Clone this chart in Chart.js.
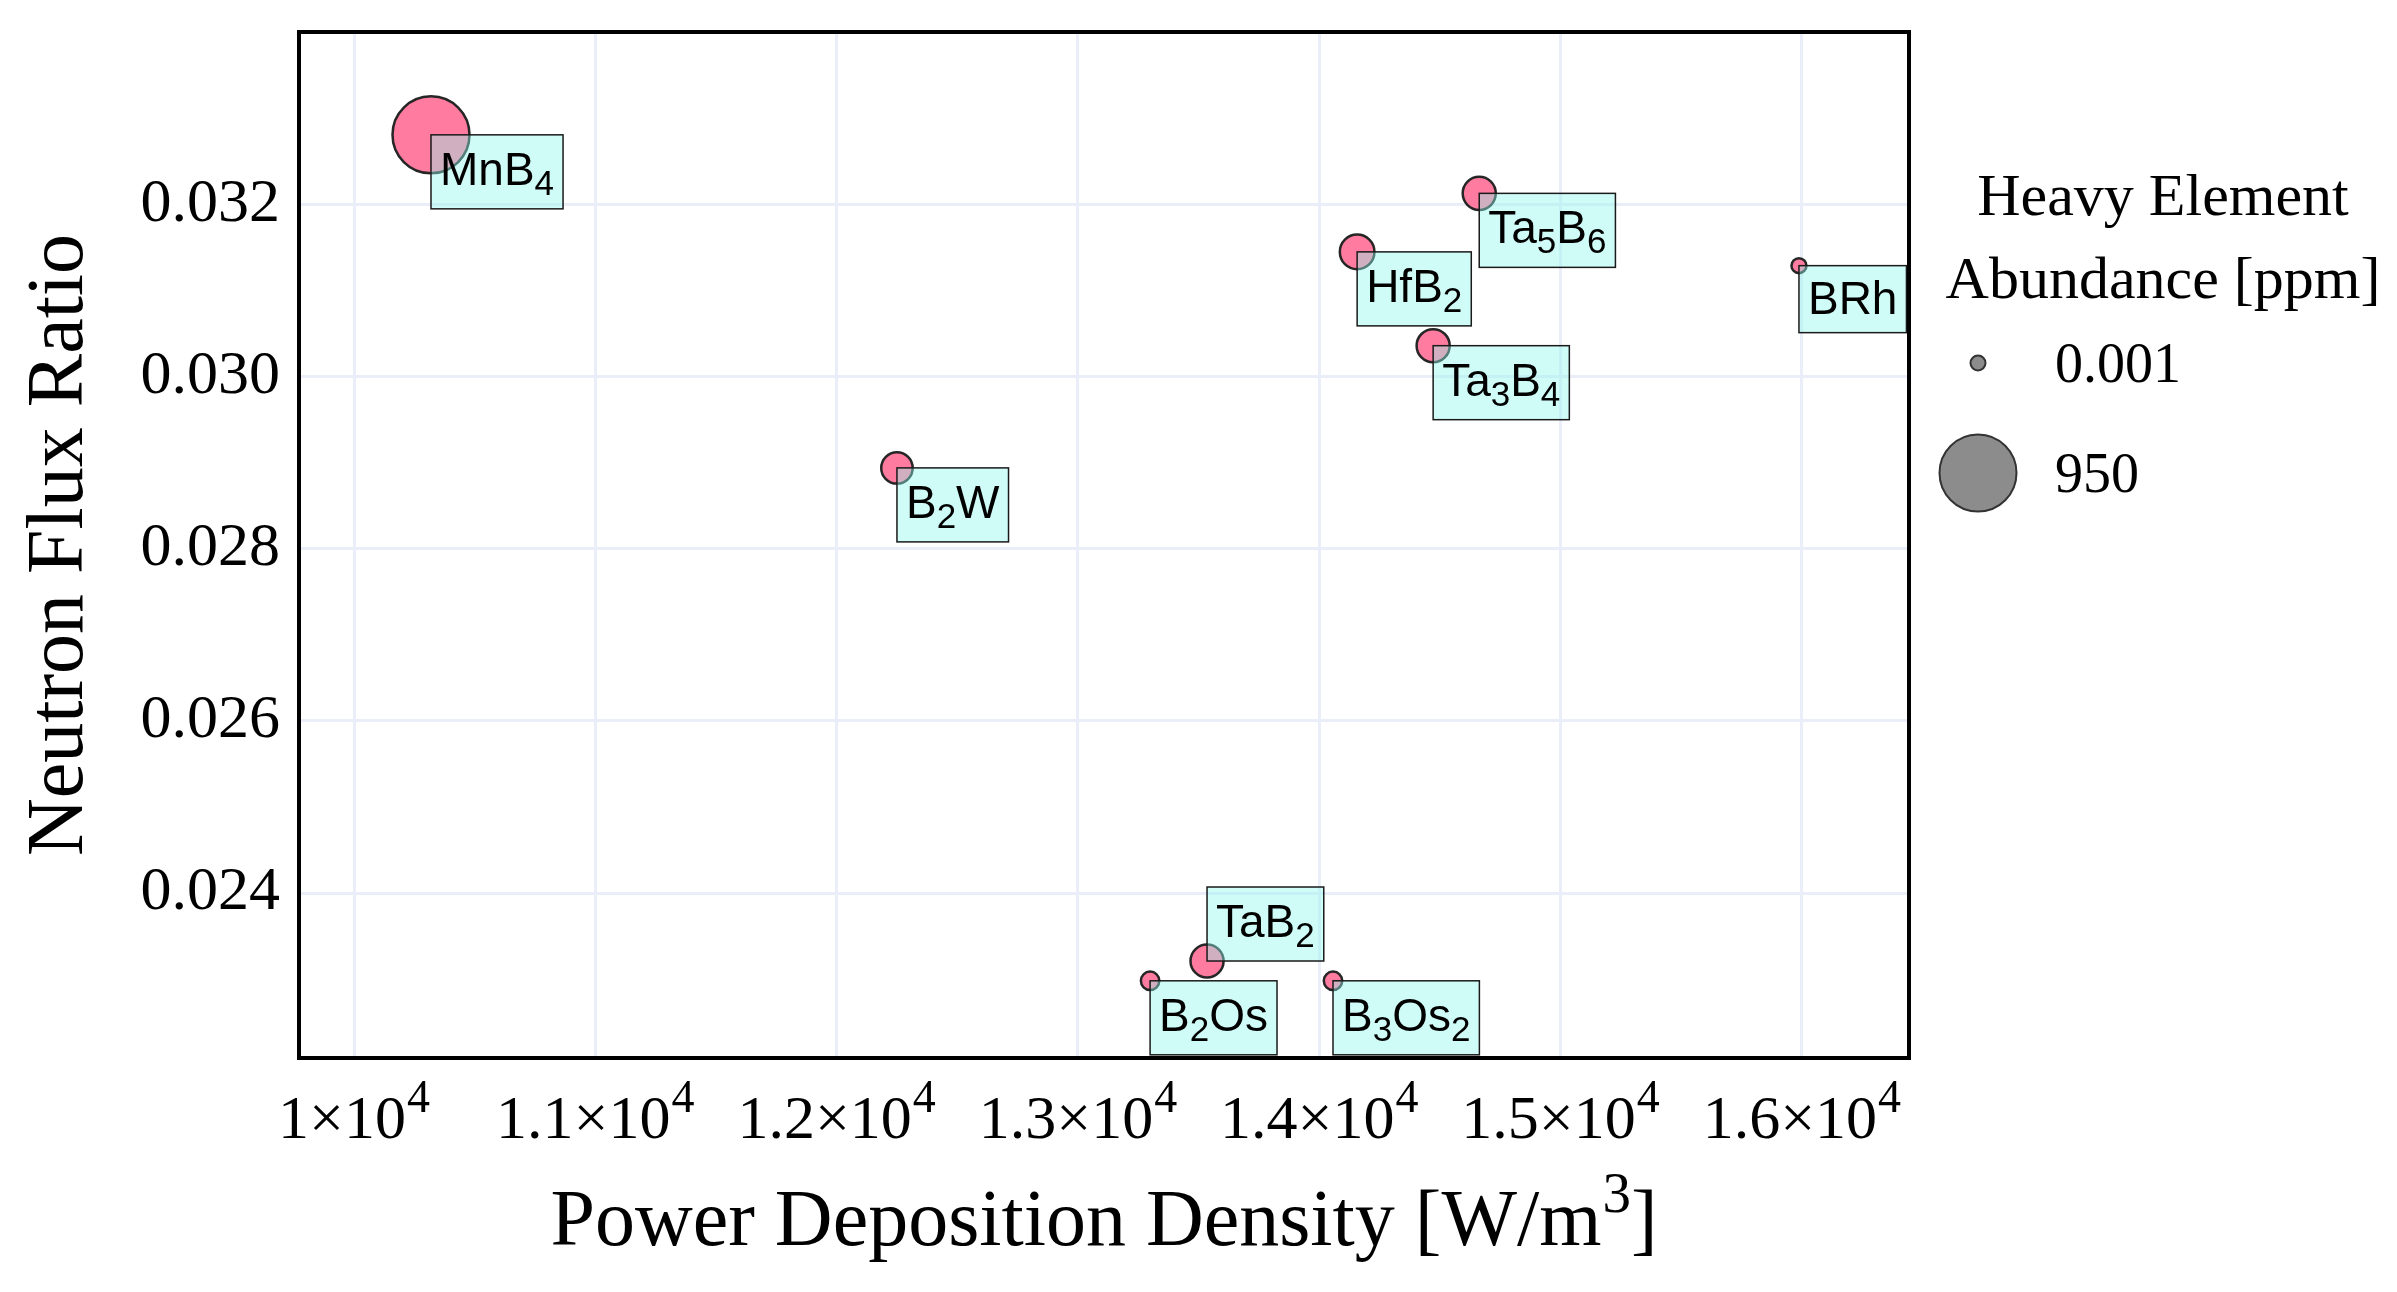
<!DOCTYPE html>
<html lang="en">
<head>
    <meta charset="UTF-8" />
    <title>Neutron Flux Ratio vs Power Deposition Density</title>
    <script src="https://cdn.jsdelivr.net/npm/chart.js@4.4.1/dist/chart.umd.min.js"></script>
    <style>
        html, body { margin: 0; padding: 0; background: #ffffff; }
        #wrap { width: 2397px; height: 1292px; position: relative; }
    </style>
</head>
<body>
    <div id="wrap"><canvas id="chart"></canvas></div>

    <script>
        // === Data ===
        const compounds    = ["MnB4", "B2W", "Ta5B6", "HfB2", "Ta3B4", "BRh", "TaB2", "B2Os", "B3Os2"];
        const powerDensity = [10319, 12250, 14663, 14157, 14472, 15988, 13535, 13299, 14057];
        const fluxRatio    = [0.03281, 0.02894, 0.03213, 0.03145, 0.03036, 0.03129, 0.02321, 0.02298, 0.02298];
        const abundance    = [950, 1.25, 2, 3, 2, 0.001, 2, 0.0015, 0.0015]; // heavy element, ppm
        const xTicks = [10000, 11000, 12000, 13000, 14000, 15000, 16000];
        const yTicks = [0.024, 0.026, 0.028, 0.030, 0.032];
        const sizeLegend = [0.001, 950];

        // labels that sit above their point instead of below
        const LABEL_ABOVE = ["TaB2"];

        // === Styling ===
        const SERIF = "'Liberation Serif', 'Times New Roman', serif";
        const SANS = "'Liberation Sans', Arial, sans-serif";
        const GRID = "rgb(234, 238, 248)";
        const POINT_FILL = "#FF7BA0";
        const LABEL_FILL = "rgba(143, 248, 238, 0.42)";

        // size scale: abundance -> bubble radius (px)
        const R_MIN = 7.5, R_MAX = 38.5;
        function radiusFor(v) {
            const lo = sizeLegend[0], hi = sizeLegend[sizeLegend.length - 1];
            const f = Math.pow(Math.max(0, (v - lo) / (hi - lo)), 0.2);
            return R_MIN + (R_MAX - R_MIN) * f;
        }

        // "Ta3B4" -> [{text:"Ta"}, {text:"3", sub:true}, {text:"B"}, {text:"4", sub:true}]
        function splitFormula(s) {
            return s.match(/[A-Za-z]+|\d+/g).map((t) => ({ text: t, sub: /^\d+$/.test(t) }));
        }

        // === Plugins ===
        const formulaLabels = {
            id: "formulaLabels",
            afterDatasetsDraw(chart) {
                const { ctx } = chart;
                const meta = chart.getDatasetMeta(0);
                ctx.save();
                meta.data.forEach((pt, i) => {
                    const parts = splitFormula(compounds[i]);
                    const hasSub = parts.some((p) => p.sub);
                    let w = 0;
                    parts.forEach((p) => {
                        ctx.font = p.sub ? `35px ${SANS}` : `46px ${SANS}`;
                        p.w = ctx.measureText(p.text).width;
                        w += p.w;
                    });
                    const boxW = w + 18;
                    const boxH = hasSub ? 74 : 67;
                    const left = pt.x;
                    const top = LABEL_ABOVE.includes(compounds[i]) ? pt.y - boxH : pt.y;

                    ctx.fillStyle = LABEL_FILL;
                    ctx.fillRect(left, top, boxW, boxH);
                    ctx.strokeStyle = "#1a1a1a";
                    ctx.lineWidth = 1.5;
                    ctx.strokeRect(left, top, boxW, boxH);

                    const base = top + (hasSub ? 50 : 48);
                    let x = left + 9;
                    ctx.fillStyle = "#000";
                    ctx.textAlign = "left";
                    ctx.textBaseline = "alphabetic";
                    parts.forEach((p) => {
                        ctx.font = p.sub ? `35px ${SANS}` : `46px ${SANS}`;
                        ctx.fillText(p.text, x, p.sub ? base + 10 : base);
                        x += p.w;
                    });
                });
                ctx.restore();
            }
        };

        // draw "main" + raised "sup" (+ optional trailing text) centred on cx
        function drawSup(ctx, main, sup, after, cx, base, size, supSize, rise) {
            ctx.font = `${size}px ${SERIF}`;
            const wMain = ctx.measureText(main).width;
            const wAfter = after ? ctx.measureText(after).width : 0;
            ctx.font = `${supSize}px ${SERIF}`;
            const wSup = ctx.measureText(sup).width;
            const x0 = cx - (wMain + wSup + wAfter + 1) / 2;
            ctx.font = `${size}px ${SERIF}`;
            ctx.fillText(main, x0, base);
            if (after) ctx.fillText(after, x0 + wMain + wSup + 1, base);
            ctx.font = `${supSize}px ${SERIF}`;
            ctx.fillText(sup, x0 + wMain + 1, base - rise);
        }

        // x tick labels in the form 1.2×10^4, plus the x-axis title
        const sciAxis = {
            id: "sciAxis",
            afterDraw(chart) {
                const { ctx, chartArea } = chart;
                const xs = chart.scales.x;
                ctx.save();
                ctx.fillStyle = "#000";
                ctx.textBaseline = "alphabetic";
                ctx.textAlign = "left";
                xs.ticks.forEach((t) => {
                    const exp = Math.floor(Math.log10(t.value));
                    const mant = +(t.value / Math.pow(10, exp)).toFixed(2);
                    drawSup(ctx, `${mant}×10`, String(exp), "", xs.getPixelForValue(t.value),
                        chartArea.bottom + 80, 62, 46, 26);
                });
                drawSup(ctx, "Power Deposition Density [W/m", "3", "]",
                    (chartArea.left + chartArea.right) / 2, chartArea.bottom + 187, 80, 57, 33);
                ctx.restore();
            }
        };

        // panel frame + size legend
        const frameAndLegend = {
            id: "frameAndLegend",
            afterDraw(chart) {
                const { ctx, chartArea: a } = chart;
                ctx.save();
                ctx.strokeStyle = "#000";
                ctx.lineWidth = 4;
                ctx.strokeRect(a.left, a.top, a.right - a.left, a.bottom - a.top);

                const cx = a.right + 254;
                ctx.fillStyle = "#000";
                ctx.textAlign = "center";
                ctx.textBaseline = "alphabetic";
                ctx.font = `60px ${SERIF}`;
                ctx.fillText("Heavy Element", cx, 215);
                ctx.fillText("Abundance [ppm]", cx, 298);

                const dotX = a.right + 69;
                const rowY = [363, 473];
                sizeLegend.forEach((v, i) => {
                    ctx.beginPath();
                    ctx.arc(dotX, rowY[i], radiusFor(v), 0, Math.PI * 2);
                    ctx.fillStyle = "#8c8c8c";
                    ctx.fill();
                    ctx.strokeStyle = "#333";
                    ctx.lineWidth = 2;
                    ctx.stroke();
                    ctx.fillStyle = "#000";
                    ctx.textAlign = "left";
                    ctx.font = `56px ${SERIF}`;
                    ctx.fillText(String(v), a.right + 146, rowY[i] + 19);
                });
                ctx.restore();
            }
        };

        // === Chart ===
        const ctx = document.getElementById("chart").getContext("2d");
        new Chart(ctx, {
            type: "bubble",
            data: {
                datasets: [
                    {
                        label: "compounds",
                        data: compounds.map((c, i) => ({
                            x: powerDensity[i],
                            y: fluxRatio[i],
                            r: radiusFor(abundance[i])
                        })),
                        backgroundColor: POINT_FILL,
                        borderColor: "#262626",
                        borderWidth: 2.5
                    }
                ]
            },
            options: {
                responsive: true,
                maintainAspectRatio: false,
                animation: false,
                devicePixelRatio: 1,
                events: [],
                // autoPadding off: otherwise the biggest bubble radius pushes the panel down
                layout: { autoPadding: false, padding: { top: 32, right: 488, bottom: 0, left: 0 } },
                plugins: {
                    legend: { display: false },
                    tooltip: { enabled: false }
                },
                scales: {
                    x: {
                        type: "linear",
                        min: 9772,
                        max: 16444,
                        afterBuildTicks: (s) => { s.ticks = xTicks.map((v) => ({ value: v })); },
                        afterFit: (s) => {
                            s.height = 234;
                            s.paddingLeft = 0;
                            s.paddingRight = 0;
                        },
                        grid: { color: GRID, lineWidth: 3, drawTicks: false },
                        border: { display: false },
                        ticks: { display: false },
                        title: { display: false }
                    },
                    y: {
                        type: "linear",
                        min: 0.022083,
                        max: 0.034005,
                        afterBuildTicks: (s) => { s.ticks = yTicks.map((v) => ({ value: v })); },
                        afterFit: (s) => {
                            s.width = 299;
                            // tick labels sit well inside the panel, no overhang padding needed
                            s.paddingTop = 0;
                            s.paddingBottom = 0;
                        },
                        grid: { color: GRID, lineWidth: 3, drawTicks: false },
                        border: { display: false },
                        ticks: {
                            color: "#000",
                            padding: 19,
                            font: { family: SERIF, size: 62 },
                            callback: (v) => v.toFixed(3)
                        },
                        title: {
                            display: true,
                            text: "Neutron Flux Ratio",
                            color: "#000",
                            font: { family: SERIF, size: 80 },
                            padding: { top: 13, bottom: 0 }
                        }
                    }
                }
            },
            plugins: [formulaLabels, sciAxis, frameAndLegend]
        });
    </script>
</body>
</html>
